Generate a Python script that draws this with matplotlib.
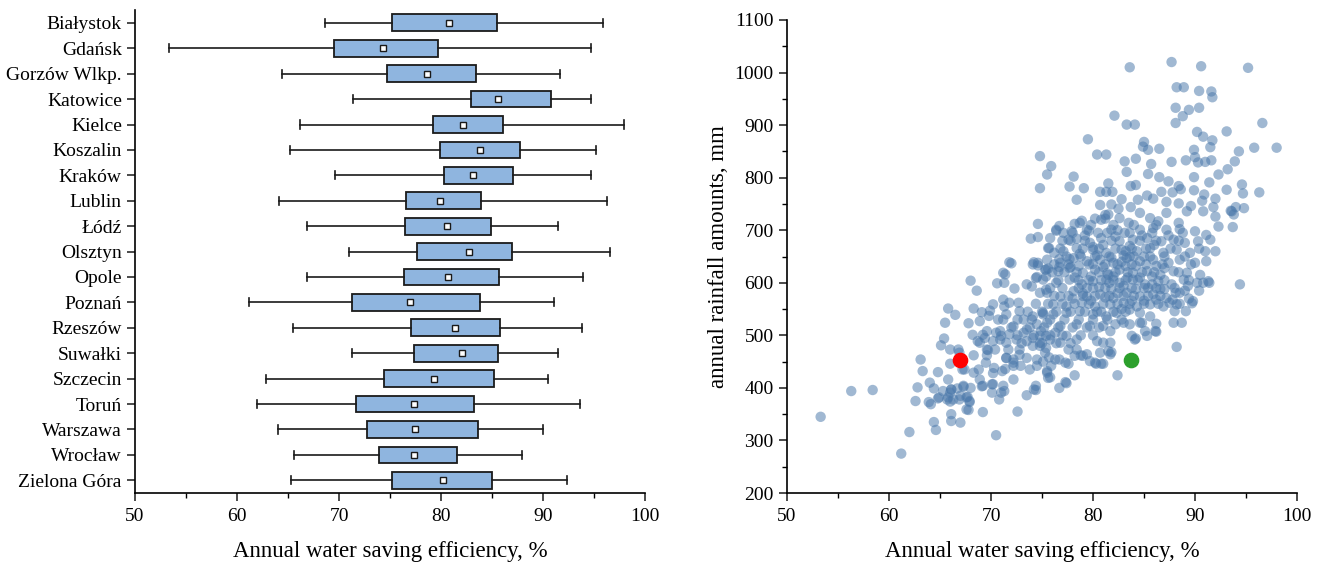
import matplotlib
matplotlib.use("Agg")
import matplotlib.pyplot as plt
from matplotlib.ticker import MultipleLocator

plt.rcParams['font.family'] = ['Liberation Serif', 'DejaVu Serif']

# per-city summary of annual water saving efficiency, %
cities = ["Białystok", "Gdańsk", "Gorzów Wlkp.", "Katowice", "Kielce", "Koszalin",
          "Kraków", "Lublin", "Łódź", "Olsztyn", "Opole", "Poznań", "Rzeszów",
          "Suwałki", "Szczecin", "Toruń", "Warszawa", "Wrocław", "Zielona Góra"]
eff_min = [68.6, 53.3, 64.4, 71.4, 66.2, 65.2, 69.6, 64.1, 66.9, 71.0,
           66.9, 61.2, 65.5, 71.3, 62.8, 62.0, 64.0, 65.6, 65.3]
eff_q1 = [75.2, 69.5, 74.7, 82.9, 79.2, 79.9, 80.3, 76.6, 76.5, 77.6,
          76.4, 71.3, 77.1, 77.4, 74.4, 71.7, 72.7, 73.9, 75.2]
eff_mean = [80.8, 74.3, 78.6, 85.6, 82.2, 83.8, 83.1, 79.9, 80.6, 82.7,
            80.7, 77.0, 81.4, 82.1, 79.3, 77.4, 77.5, 77.4, 80.2]
eff_q3 = [85.5, 79.7, 83.4, 90.8, 86.1, 87.7, 87.1, 83.9, 84.9, 87.0,
          85.7, 83.8, 85.8, 85.6, 85.2, 83.2, 83.6, 81.6, 85.0]
eff_max = [95.9, 94.7, 91.7, 94.7, 97.9, 95.2, 94.7, 96.3, 91.5, 96.6,
           93.9, 91.1, 93.8, 91.5, 90.5, 93.6, 90.0, 87.9, 92.4]

# yearly observations: (efficiency %, annual rainfall mm)
observations = [
    (83.6, 1010), (87.7, 1020), (90.6, 1012), (95.2, 1009), (88.2, 972), (88.9, 972),
    (90.4, 965), (91.6, 964), (91.7, 953), (88.1, 933), (89.4, 929), (90.4, 933),
    (88.8, 917), (82.1, 918), (83.3, 901), (84.1, 901), (88.1, 904), (96.6, 904),
    (79.5, 873), (90.2, 887), (90.8, 878), (91.7, 871), (93.1, 888), (85.0, 868),
    (84.9, 859), (85.4, 853), (86.5, 855), (89.9, 853), (91.5, 858), (95.8, 857),
    (98.0, 857), (94.3, 850), (74.8, 841), (80.4, 844), (81.3, 844), (83.1, 831),
    (84.2, 836), (85.7, 826), (87.7, 830), (89.1, 833), (90.0, 839), (90.3, 829),
    (91.0, 830), (91.6, 833), (93.9, 831), (75.9, 822), (75.5, 806), (83.3, 811),
    (85.4, 807), (86.5, 801), (89.9, 801), (92.3, 806), (93.2, 816), (78.1, 802),
    (74.8, 780), (77.7, 783), (79.1, 780), (81.5, 789), (83.7, 784), (84.2, 786),
    (87.4, 793), (88.4, 784), (91.4, 791), (94.6, 787), (80.7, 773), (81.3, 773),
    (81.9, 773), (85.3, 766), (86.7, 773), (87.8, 772), (88.6, 778), (89.9, 776),
    (90.9, 768), (92.0, 760), (93.1, 777), (94.7, 770), (96.3, 772), (78.4, 758),
    (80.7, 748), (81.8, 749), (82.8, 759), (83.7, 744), (84.4, 758), (85.9, 760),
    (87.2, 754), (88.4, 751), (89.6, 746), (90.7, 756), (91.8, 744), (93.5, 737),
    (94.0, 744), (94.8, 742), (93.8, 730), (93.7, 706), (92.3, 707), (92.0, 726),
    (74.6, 712), (74.6, 687), (73.9, 684), (76.7, 708), (76.4, 699), (77.1, 695),
    (78.2, 712), (78.9, 718), (77.8, 680), (78.4, 684), (79.6, 699), (80.2, 722),
    (81.2, 722), (81.5, 730), (82.5, 741), (75.7, 666), (76.2, 657), (76.7, 645),
    (77.7, 645), (78.7, 655), (80.0, 668), (72.0, 637), (74.2, 639), (74.6, 633),
    (75.6, 627), (76.7, 630), (77.8, 630), (71.4, 616), (74.4, 609), (68.0, 604),
    (68.6, 585), (71.3, 600), (70.6, 599), (72.3, 589), (65.8, 551), (66.5, 539),
    (65.5, 524), (68.3, 551), (69.1, 544), (69.8, 537), (67.8, 523), (68.2, 501),
    (69.2, 501), (70.5, 505), (65.4, 494), (65.1, 481), (66.0, 473), (63.1, 454),
    (63.3, 432), (64.8, 430), (66.0, 446), (66.9, 454), (67.2, 435), (68.3, 462),
    (69.7, 472), (68.8, 435), (69.5, 448), (70.3, 438), (64.0, 410), (62.8, 401),
    (64.4, 399), (65.8, 416), (65.3, 394), (64.9, 382), (65.8, 382), (66.1, 397),
    (66.7, 399), (67.3, 402), (68.0, 400), (69.1, 403), (70.2, 407), (70.1, 391),
    (71.2, 404), (71.3, 394), (62.6, 375), (63.9, 373), (64.1, 369), (66.0, 374),
    (66.9, 378), (67.7, 383), (67.9, 373), (70.8, 378), (67.8, 358), (69.2, 354),
    (72.6, 355), (66.1, 350), (66.1, 337), (67.0, 334), (64.4, 335), (64.6, 320),
    (62.0, 316), (70.5, 310), (61.2, 275), (53.3, 345), (56.3, 394), (58.4, 396),
    (73.5, 386), (74.4, 396), (76.7, 400), (77.4, 409), (78.2, 424), (82.4, 424),
    (88.2, 478), (94.4, 597), (88.7, 524), (87.9, 524), (86.2, 507), (85.3, 499),
    (84.2, 494), (84.8, 524), (86.2, 522), (89.1, 546), (88.5, 560), (89.7, 561),
    (89.4, 570), (91.4, 600), (90.8, 600), (79.4, 464), (80.3, 446), (81.0, 446),
    (81.8, 468), (78.8, 462), (77.6, 446), (76.7, 454), (75.8, 420), (75.7, 458),
    (74.5, 442), (74.4, 404), (72.9, 442), (72.2, 442), (71.4, 436),
    # upper part of the main cloud
    (81.2, 729), (82.6, 723), (84.6, 733), (85.6, 723), (87.2, 733), (89.2, 736),
    (90.8, 736), (93.6, 736), (78.7, 714), (80.8, 720), (83.5, 714), (86.4, 717),
    (88.4, 714), (76.4, 701), (77.9, 698), (79.4, 701), (80.5, 695), (81.8, 701),
    (83.1, 695), (84.6, 701), (85.9, 704), (87.2, 701), (88.5, 702), (90.0, 698),
    (91.1, 691), (75.8, 685), (77.6, 682), (79.7, 676), (80.8, 685), (82.6, 679),
    (83.9, 682), (85.3, 685), (86.7, 679), (87.9, 682), (89.0, 676), (90.3, 679),
    (91.5, 682), (75.6, 666), (77.1, 660), (78.4, 666), (80.0, 663), (81.3, 657),
    (82.8, 663), (84.3, 660), (85.6, 666), (86.9, 657), (88.2, 663), (89.5, 657),
    (91.0, 660), (92.0, 660), (75.5, 644), (76.8, 638), (78.1, 647), (79.4, 641),
    (80.7, 644), (82.0, 638), (83.3, 647), (84.6, 641), (85.9, 644), (87.4, 638),
    (88.5, 644), (90.0, 638), (91.1, 641), (75.3, 625), (76.6, 622), (77.7, 628),
    (79.0, 619), (80.2, 625), (81.5, 615), (82.6, 625), (83.9, 619), (85.3, 622),
    (86.6, 615), (87.9, 622), (89.2, 619), (90.5, 615), (91.3, 603), (75.1, 606),
    (76.4, 600), (77.7, 606), (78.9, 597), (80.0, 603), (81.3, 606), (82.6, 600),
    (83.9, 606), (85.1, 597), (86.4, 603), (87.7, 597), (88.9, 606), (90.2, 600),
    (75.5, 581), (76.8, 574), (78.1, 584), (79.4, 574), (80.7, 578), (82.0, 571),
    (83.3, 581), (84.6, 574), (85.9, 578), (87.2, 571), (88.5, 581), (89.8, 565),
    (76.1, 559), (77.4, 555), (78.9, 562), (80.2, 555), (81.7, 559), (83.0, 562),
    (84.3, 555), (85.6, 559), (86.9, 555), (88.2, 559),
    # dense core, second layer
    (79.2, 690), (81.0, 672), (82.2, 688), (83.6, 670), (84.8, 690), (86.0, 672),
    (87.4, 690), (80.4, 652), (81.8, 648), (83.0, 652), (84.2, 632), (85.0, 650),
    (86.2, 632), (78.6, 632), (79.8, 612), (81.0, 630), (82.0, 612), (83.2, 632),
    (84.6, 610), (85.8, 612), (87.0, 628), (78.2, 610), (79.4, 590), (80.6, 592),
    (81.8, 588), (83.0, 594), (84.2, 588), (85.4, 590), (86.6, 588), (77.0, 590),
    (78.0, 570), (79.8, 566), (81.2, 572), (82.4, 580), (83.8, 566), (85.0, 566),
    (86.2, 568), (81.6, 600), (83.4, 610), (82.8, 640), (80.0, 636), (84.0, 650),
    (82.4, 700), (83.2, 660), (81.4, 618), (79.0, 580), (80.4, 545), (82.8, 550),
    (85.8, 597), (87.0, 588), (88.1, 581), (89.3, 594), (90.4, 585), (86.6, 575),
    (87.8, 568), (89.0, 585),
    # dense core, third layer
    (79.8, 710), (82.0, 710), (84.0, 710), (86.2, 710),
    (78.0, 695), (81.4, 695), (83.6, 695), (85.8, 695), (88.8, 695),
    (77.0, 680), (79.2, 680), (81.8, 680), (84.6, 680), (86.2, 680), (88.4, 680),
    (76.8, 665), (79.0, 665), (80.6, 665), (82.2, 665), (83.8, 665), (85.2, 665),
    (87.6, 665), (90.4, 665),
    (77.4, 650), (78.8, 650), (80.2, 650), (81.6, 650), (83.6, 650), (85.6, 650),
    (87.0, 650), (89.0, 650),
    (76.2, 635), (77.6, 635), (79.6, 635), (81.2, 635), (82.4, 635), (83.8, 635),
    (85.2, 635), (86.8, 635), (89.6, 635),
    (76.0, 620), (77.2, 620), (78.4, 620), (80.6, 620), (82.2, 620), (83.4, 620),
    (84.8, 620), (86.0, 620), (88.4, 620),
    (76.6, 605), (78.6, 605), (79.6, 605), (80.8, 605), (82.0, 605), (83.2, 605),
    (84.4, 605), (87.0, 605), (89.4, 605),
    (75.8, 590), (78.6, 590), (80.0, 590), (81.2, 590), (82.6, 590), (83.8, 590),
    (85.0, 590), (86.2, 590), (88.0, 590),
    (76.2, 575), (77.6, 575), (79.0, 575), (80.2, 575), (81.6, 575), (83.0, 575),
    (84.0, 575), (85.4, 575),
    (74.4, 560), (75.6, 560), (77.0, 560), (78.2, 560), (79.6, 560), (81.0, 560),
    (82.4, 560), (83.6, 560), (85.0, 560), (86.4, 560),
    (73.6, 545), (75.0, 545), (76.4, 545), (77.8, 545), (79.2, 545), (80.8, 545),
    (82.0, 545), (83.2, 545),
    (72.6, 530), (74.0, 530), (75.8, 530), (77.2, 530), (78.6, 530), (80.0, 530),
    (81.4, 530), (82.8, 530),
    (72.0, 515), (73.8, 515), (75.2, 515), (76.6, 515), (78.0, 515), (79.4, 515),
    (80.6, 515),
    (72.6, 500), (74.2, 500), (75.8, 500), (77.0, 500), (78.8, 500), (80.0, 500),
    (73.0, 485), (75.0, 485), (76.4, 485), (77.8, 485),
    # lower left of the main cloud
    (71.8, 639), (73.5, 597), (74.1, 635), (74.6, 638), (75.4, 625), (75.4, 612),
    (74.5, 611), (74.0, 593), (74.8, 581), (75.4, 587), (71.2, 619), (69.9, 547),
    (70.2, 559), (71.2, 568), (71.3, 555), (70.7, 530), (71.2, 530), (71.8, 562),
    (72.7, 562), (72.8, 546), (71.5, 540), (72.2, 517), (73.2, 530), (73.5, 511),
    (74.1, 536), (74.5, 521), (75.1, 540), (74.9, 508), (75.4, 499), (68.9, 527),
    (69.6, 508), (68.7, 489), (69.4, 495), (70.2, 489), (71.0, 499), (70.9, 508),
    (71.8, 502), (72.5, 492), (73.2, 505), (73.5, 489), (74.1, 495), (74.8, 486),
    (75.4, 476), (72.8, 473), (71.7, 473), (70.4, 473), (69.6, 473), (71.5, 457),
    (72.2, 454), (73.5, 457), (74.5, 454), (66.8, 473), (66.9, 467), (66.1, 397),
    (66.0, 391), (64.8, 380), (65.7, 378), (66.3, 378), (67.0, 385), (67.3, 404),
    (67.6, 382), (67.9, 375), (67.6, 359), (69.2, 404), (68.9, 416), (68.3, 429),
    (67.4, 435), (68.9, 486), (69.6, 462), (70.2, 428), (70.1, 407), (71.0, 391),
    (71.1, 432), (71.5, 457), (70.9, 492), (71.5, 486), (72.2, 416), (74.2, 397),
    (72.2, 448), (72.8, 463), (74.1, 480), (75.1, 450), (75.5, 429), (73.8, 435),
    (74.8, 499),
    # lower right of the main cloud
    (77.3, 411), (75.5, 432), (75.6, 419), (75.9, 442), (76.3, 454), (77.3, 448),
    (77.6, 473), (78.2, 461), (79.0, 461), (78.4, 473), (79.7, 451), (80.2, 448),
    (80.8, 446), (81.7, 464), (81.5, 470), (80.7, 467), (75.3, 467), (74.8, 480),
    (75.8, 492), (76.8, 486), (76.3, 505), (77.4, 499), (78.4, 492), (80.4, 489),
    (81.0, 486), (81.7, 486), (83.8, 499), (84.1, 492), (85.1, 508), (86.1, 508),
    (88.0, 546), (87.5, 562), (84.6, 524), (83.6, 521), (83.0, 524), (82.2, 521),
    (81.7, 508), (81.0, 518), (79.7, 518), (78.4, 521), (76.8, 518), (75.5, 524),
    (84.6, 543), (85.6, 536), (83.6, 549), (82.3, 543), (81.3, 536), (80.0, 540),
    (78.7, 546), (77.4, 543), (76.1, 540), (75.1, 543),
]
obs_eff = [p[0] for p in observations]
obs_rain = [p[1] for p in observations]

# highlighted years
red_pt = (67.0, 453)
green_pt = (83.7, 453)

fig = plt.figure(figsize=(13.2, 5.63), dpi=100)
ax1 = fig.add_axes([0.1023, 0.1243, 0.3863, 0.8577])
ax2 = fig.add_axes([0.5962, 0.1243, 0.3864, 0.8402])

# ---- box plot ----
stats = []
for i in range(len(cities)):
    stats.append(dict(label=cities[i], whislo=eff_min[i], q1=eff_q1[i],
                      med=eff_mean[i], q3=eff_q3[i], whishi=eff_max[i],
                      mean=eff_mean[i], fliers=[]))
ax1.bxp(stats, positions=range(len(cities)), orientation='horizontal',
        widths=0.66, capwidths=0.32, patch_artist=True, showmeans=True,
        showfliers=False,
        boxprops=dict(facecolor='#8fb5df', edgecolor='#1a1a1a', linewidth=1.3),
        whiskerprops=dict(color='#1a1a1a', linewidth=1.2),
        capprops=dict(color='#1a1a1a', linewidth=1.2),
        medianprops=dict(linewidth=0),
        meanprops=dict(marker='s', markersize=4.5, markerfacecolor='white',
                       markeredgecolor='#1a1a1a', markeredgewidth=1.0))
ax1.set_ylim(18.5, -0.5)
ax1.set_xlim(50, 100)
ax1.set_yticks(range(len(cities)))
ax1.set_yticklabels(cities)
ax1.xaxis.set_major_locator(MultipleLocator(10))
ax1.xaxis.set_minor_locator(MultipleLocator(5))
ax1.set_xlabel("Annual water saving efficiency, %", fontsize=16.5, labelpad=11)

# ---- scatter ----
ax2.scatter(obs_eff, obs_rain, s=56, color='#4a78aa', alpha=0.52,
            edgecolors='none', zorder=2)
ax2.scatter([red_pt[0]], [red_pt[1]], s=105, color='#ff0000', zorder=3)
ax2.scatter([green_pt[0]], [green_pt[1]], s=105, color='#2ca02c', zorder=3)
ax2.set_xlim(50, 100)
ax2.set_ylim(200, 1100)
ax2.xaxis.set_major_locator(MultipleLocator(10))
ax2.xaxis.set_minor_locator(MultipleLocator(5))
ax2.yaxis.set_major_locator(MultipleLocator(100))
ax2.yaxis.set_minor_locator(MultipleLocator(50))
ax2.set_xlabel("Annual water saving efficiency, %", fontsize=16.5, labelpad=11)
ax2.set_ylabel("annual rainfall amounts, mm", fontsize=16.5, labelpad=4)

for ax in (ax1, ax2):
    for side in ('top', 'right'):
        ax.spines[side].set_visible(False)
    for side in ('left', 'bottom'):
        ax.spines[side].set_linewidth(1.2)
    ax.tick_params(which='major', direction='out', length=6, width=1.1,
                   labelsize=14, color='#1a1a1a')
    ax.tick_params(which='minor', direction='out', length=3.5, width=1.0)
    ax.tick_params(axis='x', pad=5)

fig.savefig("out.png", dpi=100)
